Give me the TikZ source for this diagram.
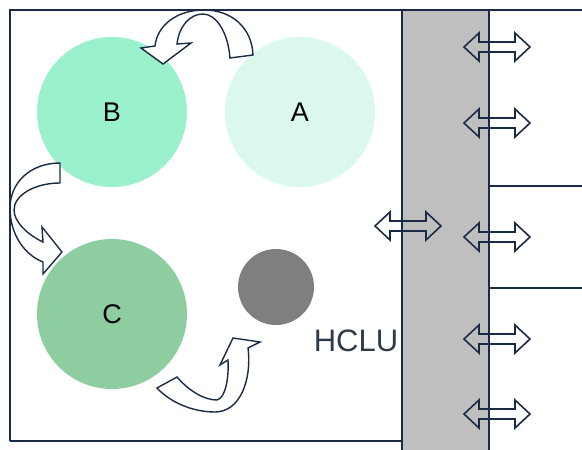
\documentclass[tikz,border=0pt]{standalone}
\usepackage{fontspec}
\setmainfont{Liberation Sans}
\definecolor{navy}{HTML}{1C2B45}
\definecolor{cB}{HTML}{9AF2CC}
\definecolor{cA}{HTML}{DAF9EC}
\definecolor{cC}{HTML}{8ECDA0}
\definecolor{cG}{HTML}{7F7F7F}
\definecolor{cR}{HTML}{BFBFBF}
\definecolor{txt}{HTML}{2F3A4A}
\begin{document}
\begin{tikzpicture}[x=1pt,y=-1pt,
  frame/.style={draw=navy,line width=2pt},
  blob/.style={circle,draw=none,inner sep=0pt,font=\fontsize{27}{27}\selectfont},
  curvarrow/.style={draw=navy,fill=white,line width=1.4pt,line join=miter},
  dblstyle/.style={draw=navy,line width=1.6pt,line join=miter},
  dbl/.pic={\draw[dblstyle] (-33,0) -- (-18,-14) -- (-18,-5) -- (18,-5) -- (18,-14) -- (33,0) -- (18,14) -- (18,5) -- (-18,5) -- (-18,14) -- cycle;}]
\useasboundingbox (0,0) rectangle (582,450);
% grey band
\fill[cR] (402,10) rectangle (489,450);
% circles
\node[blob,fill=cB,minimum size=150pt] (B) at (112,112) {B};
\node[blob,fill=cA,minimum size=150pt] (A) at (300,112) {A};
\node[blob,fill=cC,minimum size=150pt] (C) at (112,314) {C};
\node[blob,fill=cG,minimum size=76pt] (G) at (276,287) {};
\node[font=\fontsize{31}{31}\selectfont,text=txt,inner sep=0pt] (H) at (356,341) {HCLU};
% curved block arrows
\draw[curvarrow] (253,55) .. controls (252,28) and (232,10) .. (204,10)
  .. controls (176,10) and (157,26) .. (155,46) -- (141,48) -- (163,64) -- (191,43) -- (177,44)
  .. controls (179,26) and (190,14) .. (203,14)
  .. controls (216,14) and (228,32) .. (230,58) -- cycle;
\draw[curvarrow] (60,163) .. controls (30,163) and (10,183) .. (10,208)
  .. controls (10,235) and (25,255) .. (43,262) -- (43,274) -- (62,252) -- (42,227) -- (43,242)
  .. controls (28,235) and (14,222) .. (14,210)
  .. controls (14,195) and (35,183) .. (60,183) -- cycle;
\draw[curvarrow] (157,388) -- (177,377) .. controls (190,392) and (205,400) .. (217,400)
  .. controls (225,398) and (229,380) .. (228,360) -- (220,365) -- (233,338) -- (260,342) -- (248,348)
  .. controls (252,380) and (240,412) .. (215,412)
  .. controls (192,412) and (170,402) .. (157,388) -- cycle;
% frame lines
\draw[frame] (10,441) -- (10,10) -- (582,10);
\draw[frame] (10,441) -- (402,441);
\draw[frame] (402,10) -- (402,450);
\draw[frame] (489,10) -- (489,450);
\draw[frame] (489,186) -- (582,186);
\draw[frame] (489,288) -- (582,288);
% double arrows
\pic at (408,226) {dbl};
\pic at (497,47) {dbl};
\pic at (497,123) {dbl};
\pic at (497,237) {dbl};
\pic at (497,339) {dbl};
\pic at (497,414) {dbl};
\end{tikzpicture}
\end{document}
